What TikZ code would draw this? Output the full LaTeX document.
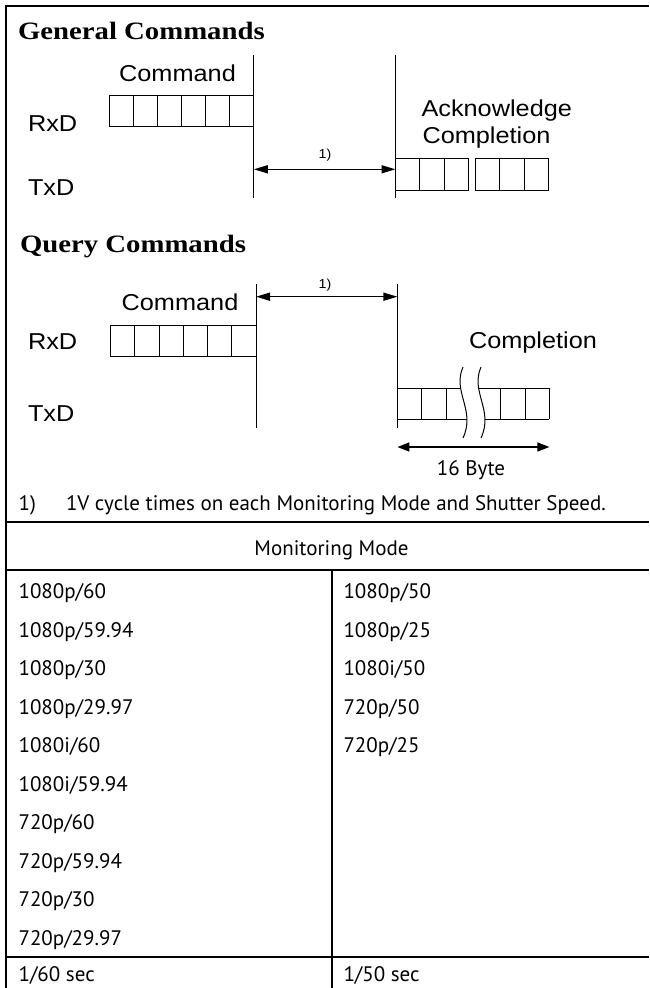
\documentclass[tikz,border=0pt]{standalone}
\usepackage{graphicx}
\usepackage{fontspec}
\setmainfont{PT Sans}
\newfontfamily\arialf{Liberation Sans}
\newfontfamily\titlef{Liberation Serif}
\usetikzlibrary{arrows.meta}
\newcommand{\dtxt}[1]{\scalebox{1.1}[1]{\arialf\fontsize{23}{23}\selectfont #1}}
\newcommand{\stxt}[1]{\scalebox{1.1}[1]{\arialf\fontsize{13}{13}\selectfont #1}}
\newcommand{\ttxt}[1]{\scalebox{1.15}[1]{\titlef\bfseries\fontsize{25}{25}\selectfont #1}}
\newcommand{\mtxt}[1]{{\fontsize{21}{21}\selectfont #1}}
\begin{document}
\begin{tikzpicture}[x=1pt,y=-1pt,
  frameline/.style={line width=1.7pt,black},
  tblline/.style={line width=1.3pt,black},
  diagline/.style={line width=1pt,black},
  darrow/.style={line width=1.5pt,{Triangle[length=14pt,width=8pt]}-{Triangle[length=14pt,width=8pt]}},
  barrow/.style={line width=1.5pt,{Triangle[length=12pt,width=9pt]}-{Triangle[length=12pt,width=9pt]}},
  lbl/.style={inner sep=0pt,outer sep=0pt},
]
\useasboundingbox (0,0) rectangle (649,988);
\fill[white] (0,0) rectangle (649,988);

% frame and table lines
\draw[frameline] (6,988) -- (6,6) -- (649,6);
\draw[tblline] (6,522) -- (649,522);
\draw[tblline] (6,570) -- (649,570);
\draw[tblline] (6,957) -- (649,957);
\draw[tblline] (332,570) -- (332,988);

% ===== General Commands =====
\node[lbl,anchor=base west] (t1) at (18,39.3) {\ttxt{General Commands}};
\node[lbl,anchor=base] (gcmd) at (177.5,81.7) {\dtxt{Command}};
\node[lbl,anchor=base west] (grx) at (28,131.7) {\dtxt{RxD}};
\node[lbl,anchor=base west] (gtx) at (28,195) {\dtxt{TxD}};
\node[lbl,anchor=base west] (gack) at (421.5,116) {\dtxt{Acknowledge}};
\node[lbl,anchor=base west] (gcomp) at (422.5,143) {\dtxt{Completion}};
\node[lbl,anchor=base] (gn1) at (325,158) {\stxt{1)}};

\draw[diagline] (253.8,55) -- (253.8,198.3);
\draw[diagline] (395.5,55) -- (395.5,198.3);
% command boxes
\draw[diagline] (109.3,95.7) rectangle (253.8,126);
\foreach \x in {133.4,157.5,181.6,205.7,229.8} \draw[diagline] (\x,95.7) -- (\x,126);
% ack / completion boxes
\draw[diagline] (395.5,158.3) rectangle (468.5,190);
\foreach \x in {419.8,444.2} \draw[diagline] (\x,158.3) -- (\x,190);
\draw[diagline] (475.2,158.3) rectangle (548.4,190);
\foreach \x in {499.6,524} \draw[diagline] (\x,158.3) -- (\x,190);
\coordinate (ga) at (253.8,169.3);
\coordinate (gb) at (395.5,169.3);
\draw[darrow] (ga) -- (gb);

% ===== Query Commands =====
\node[lbl,anchor=base west] (t2) at (20,252) {\ttxt{Query Commands}};
\node[lbl,anchor=base] (qcmd) at (180,310) {\dtxt{Command}};
\node[lbl,anchor=base west] (qrx) at (28,349) {\dtxt{RxD}};
\node[lbl,anchor=base west] (qtx) at (28,421) {\dtxt{TxD}};
\node[lbl,anchor=base] (qcomp) at (533,348) {\dtxt{Completion}};
\node[lbl,anchor=base] (qn1) at (325,288) {\stxt{1)}};

\draw[diagline] (256,284) -- (256,428);
\draw[diagline] (397.4,284) -- (397.4,428);
\draw[diagline] (110.5,325) rectangle (256,356);
\foreach \x in {134.7,159,183.2,207.4,231.7} \draw[diagline] (\x,325) -- (\x,356);
% completion boxes with break
\draw[diagline] (397.4,388) -- (549.4,388);
\draw[diagline] (397.4,419) -- (549.4,419);
\foreach \x in {421.8,446.2,500.8,525,549.4} \draw[diagline] (\x,388) -- (\x,419);
\fill[white] (463,367) .. controls (452,392) and (476,410) .. (463,438)
  -- (481,438) .. controls (494,410) and (470,392) .. (481,367) -- cycle;
\draw[diagline] (463,367) .. controls (452,392) and (476,410) .. (463,438);
\draw[diagline] (481,367) .. controls (470,392) and (494,410) .. (481,438);
\coordinate (qa) at (256,296.7);
\coordinate (qb) at (397.4,296.7);
\draw[darrow] (qa) -- (qb);
\coordinate (ba) at (397.4,447);
\coordinate (bb) at (549.4,447);
\draw[barrow] (ba) -- (bb);
\node[lbl,anchor=base] (byte) at (471,475) {\mtxt{16 Byte}};

% footnote
\node[lbl,anchor=base west] (fn1) at (18.6,510) {\mtxt{1)}};
\node[lbl,anchor=base west] (fn2) at (66,510) {\mtxt{1V cycle times on each Monitoring Mode and Shutter Speed.}};

% table
\node[lbl,anchor=base] (mm) at (331.5,555) {\mtxt{Monitoring Mode}};
\foreach \t [count=\i from 0] in {1080p/60,1080p/59.94,1080p/30,1080p/29.97,1080i/60,1080i/59.94,720p/60,720p/59.94,720p/30,720p/29.97}
  \node[lbl,anchor=base west] (a\i) at (18.6,598.5+38.55*\i) {\mtxt{\t}};
\foreach \t [count=\i from 0] in {1080p/50,1080p/25,1080i/50,720p/50,720p/25}
  \node[lbl,anchor=base west] (b\i) at (343.5,598.5+38.55*\i) {\mtxt{\t}};
\node[lbl,anchor=base west] (s1) at (18.6,981) {\mtxt{1/60 sec}};
\node[lbl,anchor=base west] (s2) at (343.5,981) {\mtxt{1/50 sec}};
\end{tikzpicture}
\end{document}
